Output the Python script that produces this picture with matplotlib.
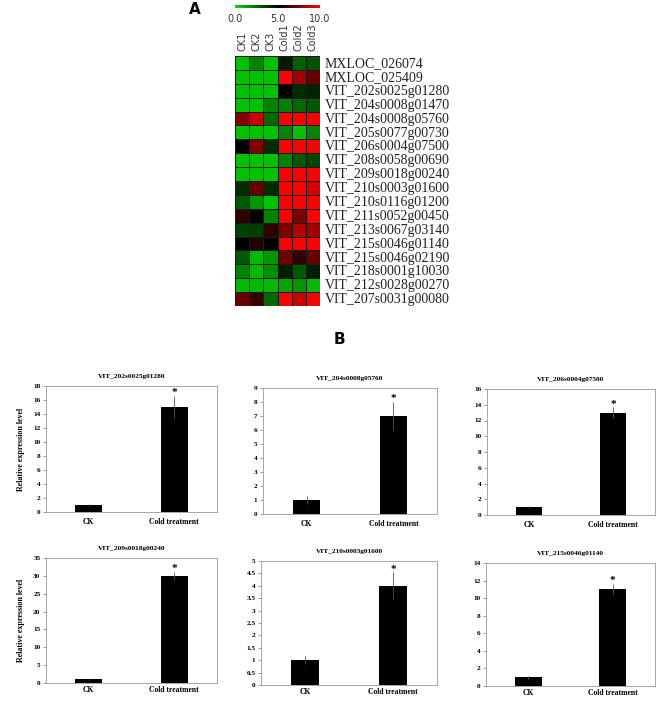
import numpy as np
import matplotlib
matplotlib.use("Agg")
import matplotlib.pyplot as plt
from matplotlib.colors import LinearSegmentedColormap
from matplotlib.ticker import FuncFormatter, MultipleLocator

W, H = 659, 701

# ---------------- data ----------------
samples = ["CK1", "CK2", "CK3", "Cold1", "Cold2", "Cold3"]
genes = ["MXLOC_026074", "MXLOC_025409", "VIT_202s0025g01280", "VIT_204s0008g01470",
         "VIT_204s0008g05760", "VIT_205s0077g00730", "VIT_206s0004g07500",
         "VIT_208s0058g00690", "VIT_209s0018g00240", "VIT_210s0003g01600",
         "VIT_210s0116g01200", "VIT_211s0052g00450", "VIT_213s0067g03140",
         "VIT_215s0046g01140", "VIT_215s0046g02190", "VIT_218s0001g10030",
         "VIT_212s0028g00270", "VIT_207s0031g00080"]
heat_values = [
    [0.6, 2.0, 0.6, 4.4, 2.8, 3.1],
    [0.6, 0.6, 0.6, 10.0, 8.2, 7.0],
    [0.6, 0.6, 0.6, 5.0, 4.0, 4.2],
    [0.6, 0.6, 2.0, 2.0, 2.6, 3.0],
    [7.6, 9.0, 2.6, 10.0, 10.0, 10.0],
    [0.6, 0.6, 0.6, 2.0, 0.6, 2.0],
    [5.0, 7.6, 4.0, 10.0, 10.0, 10.0],
    [0.6, 0.6, 0.6, 2.0, 3.0, 3.4],
    [0.6, 0.6, 0.6, 10.0, 10.0, 10.0],
    [4.0, 7.0, 4.0, 10.0, 10.0, 9.2],
    [3.0, 1.6, 0.6, 10.0, 10.0, 10.0],
    [5.9, 5.0, 2.0, 10.0, 7.4, 10.0],
    [3.5, 3.6, 5.9, 7.5, 8.5, 8.2],
    [5.0, 5.7, 5.0, 10.0, 10.0, 10.0],
    [3.0, 0.8, 1.6, 7.2, 6.0, 7.0],
    [2.0, 0.8, 1.8, 4.3, 3.0, 4.3],
    [0.8, 0.8, 0.8, 1.2, 1.6, 0.8],
    [7.0, 6.0, 2.6, 10.0, 9.0, 10.0],
]
cbar_ticks = [0.0, 5.0, 10.0]

groups = ["CK", "Cold treatment"]
bar_titles = ["VIT_202s0025g01280", "VIT_204s0008g05760", "VIT_206s0004g07500",
              "VIT_209s0018g00240", "VIT_210s0003g01600", "VIT_215s0046g01140"]
bar_means = [[1, 15], [1, 7], [1, 13], [1, 30], [1, 4], [1, 11]]
bar_errs = [[0.2, 1.6], [0.3, 1.0], [0.1, 0.7], [0.1, 1.2], [0.15, 0.55], [0.15, 0.6]]
y_max = [18, 9, 16, 35, 5, 14]
y_step = [2, 1, 2, 5, 0.5, 2]
sig = [[False, True]] * 6

# ---------------- figure ----------------
fig = plt.figure(figsize=(W / 100, H / 100), dpi=100)
fig.patch.set_facecolor("white")


def rect(l, t, r, b):
    return [l / W, 1 - b / H, (r - l) / W, (b - t) / H]


cmap = LinearSegmentedColormap.from_list("gbr", ["#00dc00", "#000000", "#ff0000"])

# heatmap
axh = fig.add_axes(rect(235, 56, 320, 306))
vals = np.array(heat_values)
axh.pcolormesh(vals, cmap=cmap, vmin=0, vmax=10, edgecolors="#1a1a1a", linewidth=0.4)
axh.set_xlim(0, len(samples))
axh.set_ylim(len(genes), 0)
axh.set_xticks([])
axh.set_yticks([])
for s in axh.spines.values():
    s.set_visible(False)
for i, g in enumerate(genes):
    axh.text(len(samples) + 0.35, i + 0.55, g, ha="left", va="center",
             fontsize=10, family="Liberation Serif", color="#222222")
for j, s in enumerate(samples):
    axh.text(j + 0.5, -0.35, s, rotation=90, ha="center", va="bottom",
             fontsize=7, color="#333333")

# colorbar
axc = fig.add_axes(rect(235, 4.5, 320, 8))
axc.imshow(np.linspace(0, 10, 256)[None, :], cmap=cmap, aspect="auto",
           extent=[0, 10, 0, 1])
axc.set_xlim(0, 10)
axc.axis("off")
for t in cbar_ticks:
    axc.text(t, -1.6, f"{t:.1f}", ha="center", va="top", fontsize=7, color="#333333")

fig.text(195 / W, 1 - 9 / H, "A", fontsize=11, fontweight="bold", ha="center", va="center")
fig.text(339 / W, 1 - 340 / H, "B", fontsize=11, fontweight="bold", ha="center", va="center")

# bar charts
bar_rects = [(46, 386, 217, 512), (263, 388, 437, 514), (487, 389, 655, 515),
             (46, 558, 217, 683), (261, 561, 437, 685), (486, 563, 655, 686)]
serif = "Liberation Serif"
fmt = FuncFormatter(lambda v, p: f"{v:g}")
for k in range(6):
    ax = fig.add_axes(rect(*bar_rects[k]))
    x = np.arange(len(groups)) + 0.5
    ax.bar(x, bar_means[k], width=0.32, color="black", zorder=2)
    ax.errorbar(x, bar_means[k], yerr=bar_errs[k], fmt="none", ecolor="#555555",
                elinewidth=0.6, capsize=0, zorder=3)
    for xi, m, e, sflag in zip(x, bar_means[k], bar_errs[k], sig[k]):
        if sflag:
            ax.annotate("*", (xi, m + e), xytext=(0, -1), textcoords="offset points",
                        ha="center", va="bottom", fontsize=8, fontweight="bold",
                        family=serif)
    ax.set_xlim(0, 2)
    ax.set_ylim(0, y_max[k])
    ax.yaxis.set_major_locator(MultipleLocator(y_step[k]))
    ax.yaxis.set_major_formatter(fmt)
    ax.set_xticks(x)
    ax.set_xticklabels(groups, fontsize=5.5, fontweight="bold", family=serif)
    ax.tick_params(axis="x", length=0, pad=4 if k < 3 else 2.5)
    ax.tick_params(axis="y", length=2, width=0.5, color="#777777", labelsize=5.2, pad=2)
    for lbl in ax.get_yticklabels():
        lbl.set_family(serif)
        lbl.set_fontweight("bold")
    for s in ax.spines.values():
        s.set_color("#999999")
        s.set_linewidth(0.6)
    ax.set_title(bar_titles[k], fontsize=5.3, fontweight="bold", family=serif, pad=6)
    if k in (0, 3):
        ax.set_ylabel("Relative expression level", fontsize=5.8, fontweight="bold",
                      family=serif, labelpad=6)

fig.savefig("out.png", dpi=100, facecolor="white")
